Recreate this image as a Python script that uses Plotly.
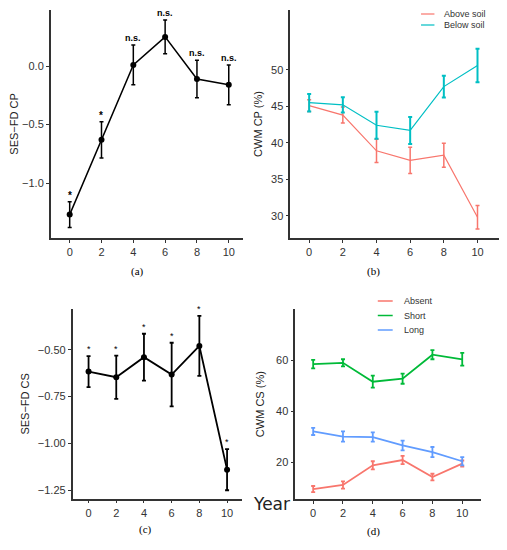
import plotly.graph_objects as go

# ---------- data ----------
years = [0, 2, 4, 6, 8, 10]

# (a) SES-FD CP
ses_cp = [-1.27, -0.63, 0.01, 0.25, -0.11, -0.16]
ses_cp_se = [0.11, 0.155, 0.17, 0.145, 0.16, 0.17]
ses_cp_sig = ["*", "*", "n.s.", "n.s.", "n.s.", "n.s."]

# (b) CWM CP (%)
cp_above = [45.1, 43.8, 38.9, 37.6, 38.3, 29.8]
cp_above_se = [0.8, 1.1, 1.6, 1.8, 1.65, 1.6]
cp_below = [45.5, 45.2, 42.4, 41.7, 47.7, 50.6]
cp_below_se = [1.2, 1.05, 1.85, 1.85, 1.5, 2.3]

# (c) SES-FD CS
ses_cs = [-0.617, -0.647, -0.54, -0.633, -0.48, -1.14]
ses_cs_se = [0.083, 0.115, 0.125, 0.17, 0.16, 0.11]
ses_cs_sig = ["*", "*", "*", "*", "*", "*"]

# (d) CWM CS (%)
cs_absent = [9.4, 11.0, 18.7, 20.8, 14.1, 19.4]
cs_absent_se = [1.2, 1.4, 1.6, 1.6, 1.3, 1.2]
cs_short = [58.4, 58.9, 51.5, 52.7, 62.1, 60.3]
cs_short_se = [1.7, 1.4, 2.35, 2.0, 1.8, 2.5]
cs_long = [32.0, 30.0, 29.8, 26.5, 23.9, 20.3]
cs_long_se = [1.4, 2.0, 1.8, 1.9, 2.0, 1.6]

PINK, CYAN = "#F8766D", "#00BFC4"
GREEN, BLUE = "#00BA38", "#619CFF"
AXC = "#333333"
SANS = "Liberation Sans, Arial, sans-serif"
SERIF = "Liberation Serif, Times New Roman, serif"

# page body has an 8px margin, so the figure is a bit smaller and
# window pixel positions are shifted by 8
OFF = 8
W, H = 507 - OFF, 550 - OFF


def px_x(p):
    return (p - OFF) / W


def px_y(p):
    return 1 - (p - OFF) / H


fig = go.Figure()


def add_series(x_ax, y_ax, y, se, color, width=1.5, marker=False,
               err_th=1.5, cap=2):
    fig.add_trace(go.Scatter(
        x=years, y=y, xaxis=x_ax, yaxis=y_ax,
        mode="lines+markers" if marker else "lines",
        line=dict(color=color, width=width),
        marker=dict(color=color, size=6),
        error_y=dict(type="data", array=se, color=color,
                     thickness=err_th, width=cap),
        showlegend=False, hoverinfo="skip",
    ))


def add_key(names, colors, line_x0, line_x1, text_x, rows_y, width):
    # small ggplot-style legend: short line key + label
    for nm, col, ry in zip(names, colors, rows_y):
        fig.add_shape(type="line", xref="paper", yref="paper",
                      x0=px_x(line_x0), x1=px_x(line_x1),
                      y0=px_y(ry), y1=px_y(ry),
                      line=dict(color=col, width=width))
        fig.add_annotation(x=px_x(text_x), y=px_y(ry), xref="paper",
                           yref="paper", text=nm, showarrow=False,
                           xanchor="left", yanchor="middle",
                           font=dict(family=SANS, size=9, color=AXC))


# (a)
add_series("x", "y", ses_cp, ses_cp_se, "black", marker=True)
# (b)
add_series("x2", "y2", cp_above, cp_above_se, PINK, width=1.2, err_th=1.5)
add_series("x2", "y2", cp_below, cp_below_se, CYAN, width=1.2, err_th=2)
add_key(["Above soil", "Below soil"], [PINK, CYAN], 420.5, 434, 442,
        [14, 25], 1.2)
# (c)
add_series("x3", "y3", ses_cs, ses_cs_se, "black", width=1.8,
           marker=True, err_th=1.8)
# (d)
add_series("x4", "y4", cs_absent, cs_absent_se, PINK, width=1.8, err_th=1.8)
add_series("x4", "y4", cs_short, cs_short_se, GREEN, width=1.8, err_th=1.8)
add_series("x4", "y4", cs_long, cs_long_se, BLUE, width=1.8, err_th=1.8)
add_key(["Absent", "Short", "Long"], [PINK, GREEN, BLUE], 377, 392, 401,
        [301, 315.5, 330], 1.5)

# significance labels
for xv, yv, e, s in zip(years, ses_cp, ses_cp_se, ses_cp_sig):
    fig.add_annotation(x=xv, y=yv + e, xref="x", yref="y", text=f"<b>{s}</b>",
                       showarrow=False, yanchor="bottom",
                       yshift=-1 if s == "*" else 0,
                       font=dict(family=SANS, size=10 if s == "*" else 9,
                                 color="black"))
for xv, yv, e, s in zip(years, ses_cs, ses_cs_se, ses_cs_sig):
    fig.add_annotation(x=xv, y=yv + e, xref="x3", yref="y3", text=s,
                       showarrow=False, yanchor="bottom", yshift=0,
                       font=dict(family=SANS, size=9, color="black"))

common = dict(showline=True, linecolor=AXC, linewidth=1.5, ticks="outside",
              ticklen=3, tickcolor=AXC, tickwidth=1, showgrid=False,
              zeroline=False, tickfont=dict(family=SANS, size=11, color=AXC),
              title_font=dict(family=SANS, size=11, color="#222222"))
xticks = dict(tickmode="array", tickvals=years)

fig.update_layout(
    xaxis=dict(domain=[px_x(48), px_x(241)], range=[-1.19, 10.87],
               anchor="y", **xticks, **common),
    yaxis=dict(domain=[px_y(238), px_y(10)], range=[-1.47, 0.48],
               anchor="x", tickvals=[-1.0, -0.5, 0.0], tickformat=".1f",
               title=dict(text="SES−FD CP", standoff=6), **common),
    xaxis2=dict(domain=[px_x(289), px_x(499)], range=[-1.12, 11.28],
                anchor="y2", **xticks, **common),
    yaxis2=dict(domain=[px_y(238), px_y(10)], range=[26.95, 58.2],
                anchor="x2", tickvals=[30, 35, 40, 45, 50],
                title=dict(text="CWM CP (%)", standoff=6), **common),
    xaxis3=dict(domain=[px_x(70), px_x(240.7)], range=[-1.15, 11.1],
                anchor="y3", **xticks, **common),
    yaxis3=dict(domain=[px_y(498.7), px_y(309)], range=[-1.295, -0.283],
                anchor="x3", tickvals=[-1.25, -1.0, -0.75, -0.5],
                tickformat=".2f",
                title=dict(text="SES−FD CS", standoff=6), **common),
    xaxis4=dict(domain=[px_x(294), px_x(480.7)], range=[-1.2, 11.25],
                anchor="y4", **xticks, **common),
    yaxis4=dict(domain=[px_y(499), px_y(309.3)], range=[5.5, 79.9],
                anchor="x4", tickvals=[20, 40, 60],
                title=dict(text="CWM CS (%)", standoff=9), **common),
    showlegend=False,
    width=W, height=H, margin=dict(l=0, r=0, t=0, b=0),
    plot_bgcolor="white", paper_bgcolor="white",
)

# panel letters and shared x label
for lbl, xp, yp in [("(a)", 127, 271), ("(b)", 381, 271),
                    ("(c)", 135, 538), ("(d)", 381, 540)]:
    fig.add_annotation(x=px_x(xp), y=px_y(yp), xref="paper", yref="paper",
                       text=lbl, showarrow=False,
                       font=dict(family=SERIF, size=11, color="black"))
fig.add_annotation(x=px_x(270), y=px_y(516), xref="paper", yref="paper",
                   text="Year", showarrow=False,
                   font=dict(family="DejaVu Sans, sans-serif", size=17,
                             color="#222222"))

fig.write_html("out.html")
